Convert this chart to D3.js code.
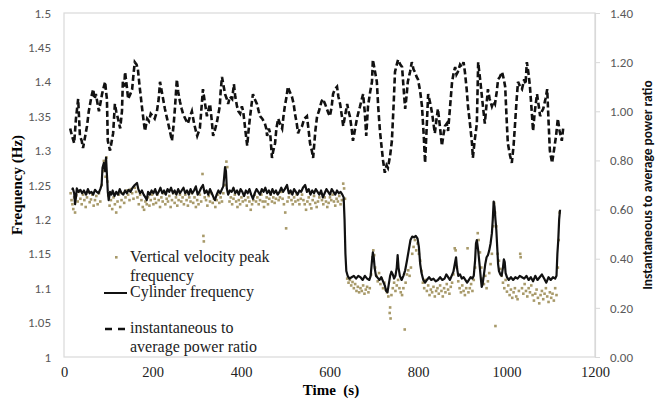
<!DOCTYPE html>
<html>
<head>
<meta charset="utf-8">
<script src="https://cdn.jsdelivr.net/npm/d3@7"></script>
<style>
  body { margin: 0; background: #fff; }
  svg { display: block; }
</style>
</head>
<body>
<div id="chart"></div>
<script>
// ticks
const time_ticks = [0, 200, 400, 600, 800, 1000, 1200];
const freq_ticks = [1, 1.05, 1.1, 1.15, 1.2, 1.25, 1.3, 1.35, 1.4, 1.45, 1.5];
const ratio_ticks = [0, 0.2, 0.4, 0.6, 0.8, 1.0, 1.2, 1.4];

// [time s, frequency Hz] cylinder frequency (solid)
const cylinder_freq = [
  [18,1.243],[20,1.245],[23,1.238],[25,1.222],[27,1.232],[29,1.245],[33,1.24],[37,1.243],[41,1.238],[45,1.242],
  [50,1.236],[54,1.244],[58,1.238],[62,1.24],[66,1.236],[70,1.243],[74,1.24],[78,1.238],[82,1.244],[85,1.25],
  [87,1.275],[90,1.282],[93,1.27],[95,1.29],[97,1.265],[99,1.24],[101,1.228],[104,1.24],[107,1.236],[110,1.242],
  [114,1.234],[118,1.24],[122,1.236],[126,1.244],[130,1.238],[134,1.236],[138,1.242],[142,1.238],[146,1.243],[150,1.24],
  [155,1.246],[160,1.25],[165,1.253],[168,1.244],[172,1.238],[176,1.242],[180,1.236],[184,1.232],[187,1.228],[190,1.24],
  [194,1.236],[198,1.242],[202,1.238],[206,1.244],[210,1.236],[214,1.24],[218,1.246],[222,1.238],[226,1.242],[230,1.236],
  [234,1.244],[238,1.24],[242,1.246],[246,1.238],[250,1.242],[254,1.236],[258,1.244],[262,1.238],[266,1.242],[270,1.246],
  [274,1.238],[278,1.242],[282,1.236],[286,1.244],[290,1.238],[294,1.242],[298,1.248],[302,1.236],[306,1.24],[310,1.246],
  [314,1.25],[318,1.238],[322,1.242],[326,1.236],[330,1.244],[334,1.238],[338,1.232],[341,1.228],[345,1.236],[349,1.242],
  [353,1.238],[357,1.244],[360,1.248],[362,1.262],[364,1.276],[366,1.27],[368,1.245],[371,1.236],[375,1.242],[379,1.24],
  [383,1.246],[387,1.238],[391,1.242],[395,1.236],[399,1.244],[403,1.24],[407,1.234],[411,1.242],[415,1.238],[419,1.244],
  [423,1.236],[427,1.23],[431,1.238],[435,1.244],[439,1.24],[443,1.236],[447,1.244],[451,1.24],[455,1.246],[459,1.238],
  [463,1.242],[467,1.236],[471,1.244],[475,1.238],[479,1.242],[483,1.236],[487,1.24],[491,1.246],[495,1.24],[499,1.244],
  [504,1.25],[508,1.238],[512,1.242],[516,1.236],[520,1.244],[524,1.24],[528,1.236],[532,1.242],[536,1.24],[540,1.246],
  [545,1.25],[549,1.24],[553,1.244],[557,1.236],[561,1.242],[565,1.238],[569,1.244],[573,1.24],[577,1.236],[581,1.242],
  [585,1.232],[589,1.238],[593,1.244],[597,1.24],[601,1.236],[605,1.244],[609,1.24],[613,1.236],[617,1.242],[621,1.238],
  [625,1.24],[629,1.236],[632,1.232],[634,1.2],[636,1.15],[638,1.125],[641,1.118],[645,1.114],[650,1.116],[655,1.118],
  [660,1.114],[665,1.118],[670,1.116],[675,1.112],[680,1.118],[685,1.114],[690,1.112],[693,1.118],[696,1.14],[698,1.152],
  [700,1.145],[702,1.13],[705,1.118],[709,1.115],[713,1.112],[717,1.116],[721,1.11],[725,1.104],[728,1.096],[731,1.094],
  [734,1.106],[737,1.118],[740,1.124],[743,1.12],[746,1.114],[749,1.118],[752,1.13],[754,1.148],[756,1.13],[759,1.118],
  [763,1.112],[767,1.118],[771,1.126],[775,1.14],[779,1.155],[783,1.17],[787,1.175],[791,1.174],[795,1.176],[799,1.172],
  [802,1.16],[805,1.135],[808,1.122],[812,1.112],[816,1.108],[820,1.112],[825,1.116],[830,1.112],[835,1.114],[840,1.11],
  [845,1.112],[850,1.116],[855,1.112],[860,1.114],[864,1.12],[868,1.116],[872,1.112],[876,1.118],[880,1.124],[884,1.138],
  [886,1.145],[888,1.13],[891,1.118],[895,1.12],[899,1.114],[903,1.116],[907,1.112],[911,1.108],[915,1.112],[919,1.116],
  [923,1.114],[926,1.118],[929,1.14],[931,1.165],[933,1.17],[936,1.155],[939,1.135],[942,1.114],[944,1.102],[946,1.106],
  [949,1.12],[952,1.135],[955,1.145],[958,1.148],[961,1.155],[964,1.165],[967,1.18],[969,1.2],[971,1.226],[973,1.218],
  [975,1.2],[977,1.185],[979,1.16],[981,1.135],[983,1.125],[986,1.12],[989,1.118],[992,1.13],[994,1.142],[996,1.138],
  [998,1.122],[1001,1.116],[1005,1.112],[1010,1.116],[1015,1.112],[1020,1.116],[1025,1.114],[1030,1.118],[1035,1.116],[1040,1.114],
  [1045,1.118],[1050,1.112],[1055,1.116],[1060,1.11],[1065,1.118],[1070,1.112],[1075,1.116],[1080,1.12],[1085,1.114],[1090,1.108],
  [1095,1.116],[1100,1.112],[1105,1.116],[1110,1.114],[1113,1.118],[1115,1.15],[1117,1.17],[1119,1.2],[1121,1.214]
];

// [time s, frequency Hz] vertical velocity peak frequency (dots)
const peak_freq = [
  [15,1.238],[17,1.228],[19,1.222],[21,1.215],[23,1.232],[25,1.21],[28,1.235],[31,1.226],[34,1.24],[37,1.23],
  [40,1.222],[43,1.236],[46,1.228],[49,1.218],[52,1.232],[55,1.24],[58,1.225],[61,1.229],[64,1.236],[67,1.22],
  [70,1.228],[73,1.234],[76,1.222],[79,1.238],[82,1.226],[85,1.25],[88,1.27],[90,1.285],[92,1.275],[94,1.262],
  [96,1.29],[98,1.255],[100,1.235],[103,1.22],[106,1.228],[109,1.215],[112,1.232],[115,1.222],[118,1.21],[121,1.226],
  [124,1.236],[127,1.218],[130,1.228],[133,1.238],[136,1.224],[139,1.232],[142,1.242],[145,1.236],[148,1.228],[151,1.244],
  [154,1.238],[157,1.23],[160,1.246],[163,1.24],[166,1.232],[169,1.222],[172,1.236],[175,1.228],[178,1.218],[181,1.214],
  [184,1.226],[187,1.222],[190,1.232],[193,1.22],[196,1.228],[199,1.236],[202,1.222],[205,1.23],[208,1.224],[211,1.236],
  [214,1.228],[217,1.218],[220,1.232],[223,1.226],[226,1.238],[229,1.222],[232,1.23],[235,1.226],[238,1.234],[241,1.218],
  [244,1.228],[247,1.238],[250,1.224],[253,1.232],[256,1.22],[259,1.228],[262,1.236],[265,1.226],[268,1.232],[271,1.222],
  [274,1.236],[277,1.228],[280,1.22],[283,1.232],[286,1.226],[289,1.238],[292,1.224],[295,1.232],[298,1.218],[301,1.228],
  [304,1.222],[307,1.236],[310,1.226],[313,1.266],[315,1.176],[316,1.168],[318,1.232],[321,1.228],[324,1.22],[327,1.234],
  [330,1.226],[333,1.238],[336,1.224],[339,1.23],[342,1.218],[345,1.228],[348,1.236],[351,1.224],[354,1.232],[357,1.226],
  [360,1.238],[363,1.25],[365,1.265],[367,1.284],[369,1.276],[371,1.24],[374,1.226],[377,1.232],[380,1.222],[383,1.23],
  [386,1.236],[389,1.226],[392,1.218],[395,1.228],[398,1.222],[401,1.232],[404,1.226],[407,1.236],[410,1.228],[413,1.22],
  [416,1.232],[419,1.226],[422,1.214],[425,1.222],[428,1.228],[431,1.236],[434,1.226],[437,1.232],[440,1.222],[443,1.228],
  [446,1.236],[449,1.226],[452,1.218],[455,1.226],[458,1.232],[461,1.222],[464,1.23],[467,1.236],[470,1.226],[473,1.232],
  [476,1.224],[479,1.23],[482,1.238],[485,1.228],[488,1.232],[491,1.24],[494,1.23],[497,1.222],[500,1.21],[502,1.187],
  [505,1.226],[508,1.232],[511,1.238],[514,1.228],[517,1.222],[520,1.232],[523,1.226],[526,1.236],[529,1.228],[532,1.222],
  [535,1.23],[538,1.236],[541,1.228],[544,1.222],[547,1.214],[550,1.226],[553,1.232],[556,1.222],[559,1.216],[562,1.228],
  [565,1.234],[568,1.224],[571,1.218],[574,1.226],[577,1.232],[580,1.238],[583,1.228],[586,1.222],[589,1.232],[592,1.226],
  [595,1.218],[598,1.224],[601,1.232],[604,1.228],[607,1.236],[610,1.226],[613,1.22],[616,1.23],[619,1.226],[622,1.234],
  [625,1.222],[628,1.228],[631,1.252],[633,1.245],[635,1.23],
  [640,1.114],[643,1.108],[646,1.112],[649,1.104],[652,1.109],[655,1.1],[658,1.106],[661,1.096],[664,1.102],[667,1.094],
  [670,1.1],[673,1.096],[676,1.104],[679,1.092],[682,1.098],[685,1.102],[688,1.094],[691,1.1],[694,1.12],[697,1.145],
  [699,1.155],[701,1.148],[703,1.13],[706,1.118],[709,1.11],[712,1.122],[715,1.106],[718,1.114],[721,1.1],[724,1.108],
  [727,1.098],[730,1.094],[733,1.088],[736,1.064],[737,1.072],[738,1.056],[740,1.09],[743,1.1],[746,1.108],[749,1.096],
  [752,1.104],[755,1.112],[758,1.1],[761,1.094],[764,1.09],[767,1.1],[770,1.04],[772,1.108],[775,1.12],[778,1.126],
  [781,1.118],[784,1.13],[787,1.15],[790,1.16],[793,1.17],[796,1.155],[799,1.165],[802,1.15],[805,1.14],[808,1.125],
  [811,1.108],[814,1.1],[817,1.112],[820,1.096],[823,1.104],[826,1.09],[829,1.098],[832,1.094],[835,1.102],[838,1.088],
  [841,1.096],[844,1.1],[847,1.092],[850,1.104],[853,1.096],[856,1.088],[859,1.1],[862,1.094],[865,1.106],[868,1.098],
  [871,1.092],[874,1.102],[877,1.108],[880,1.12],[883,1.158],[885,1.155],[888,1.13],[891,1.11],[894,1.1],[897,1.094],
  [900,1.104],[903,1.096],[906,1.09],[909,1.1],[912,1.158],[914,1.094],[917,1.1],[920,1.106],[923,1.096],[926,1.112],
  [929,1.13],[932,1.16],[935,1.18],[937,1.17],[940,1.152],[943,1.13],[946,1.114],[949,1.106],[952,1.118],[955,1.1],
  [958,1.11],[961,1.122],[964,1.135],[967,1.15],[970,1.19],[972,1.224],[974,1.21],[975,1.045],[977,1.19],[980,1.15],
  [983,1.14],[986,1.128],[989,1.118],[992,1.108],[995,1.1],[998,1.112],[1001,1.095],[1004,1.104],[1007,1.09],[1010,1.098],
  [1013,1.086],[1016,1.094],[1019,1.1],[1022,1.088],[1025,1.084],[1028,1.096],[1031,1.15],[1032,1.145],[1035,1.1],[1038,1.092],
  [1041,1.106],[1044,1.096],[1047,1.088],[1050,1.1],[1053,1.094],[1056,1.104],[1059,1.09],[1062,1.082],[1065,1.092],[1068,1.098],
  [1071,1.086],[1074,1.078],[1077,1.09],[1080,1.096],[1083,1.084],[1086,1.092],[1089,1.1],[1092,1.088],[1095,1.08],[1098,1.094],
  [1101,1.086],[1104,1.092],[1107,1.082],[1110,1.1],[1113,1.09],[1116,1.13],[1118,1.17],[1120,1.21]
];

// [time s, ratio] instantaneous to average power ratio (dashed, right axis)
const power_ratio = [
  [14,0.93],[18,0.90],[23,0.87],[27,0.97],[32,1.05],[36,0.90],[40,0.88],[43,0.85],[47,0.89],[52,0.94],
  [56,1.00],[59,1.03],[62,1.06],[66,1.09],[69,1.05],[72,1.07],[76,1.03],[79,1.00],[83,1.04],[86,1.07],
  [90,1.10],[93,1.12],[95,1.08],[97,1.05],[99,0.88],[104,0.84],[108,0.88],[111,0.91],[115,1.03],[118,1.00],
  [122,0.97],[127,0.93],[131,1.00],[133,1.12],[136,1.10],[138,1.16],[142,1.10],[145,1.05],[150,1.07],[154,1.09],
  [157,1.15],[160,1.20],[164,1.19],[167,1.17],[171,1.10],[176,1.02],[180,0.96],[183,0.92],[188,0.97],[192,0.96],
  [196,0.99],[201,0.98],[205,0.97],[210,1.00],[214,1.05],[217,1.12],[221,1.08],[224,1.05],[228,1.01],[233,0.97],
  [238,0.93],[244,0.88],[248,0.95],[251,1.02],[255,1.13],[258,1.08],[262,1.04],[266,1.01],[269,0.99],[274,0.97],
  [280,0.95],[285,0.98],[289,1.00],[294,0.95],[298,0.92],[301,0.90],[307,0.93],[311,1.02],[314,1.09],[318,1.04],
  [323,0.98],[327,1.01],[330,1.03],[334,0.96],[337,0.90],[342,0.93],[346,0.96],[349,0.99],[352,1.02],[354,1.08],
  [357,1.14],[361,1.10],[364,1.07],[368,1.05],[371,1.03],[375,1.06],[380,1.05],[384,1.11],[387,1.06],[391,1.02],
  [394,1.00],[398,0.99],[402,1.02],[405,1.00],[410,0.92],[414,0.86],[417,0.92],[420,0.97],[424,1.03],[427,1.07],
  [431,1.05],[436,1.03],[440,1.00],[443,0.98],[448,0.97],[454,0.95],[457,0.93],[459,0.90],[463,0.93],[466,0.91],
  [470,0.81],[473,0.84],[477,0.87],[480,0.93],[484,0.97],[488,0.95],[493,0.93],[496,0.98],[499,1.02],[503,1.06],
  [506,1.10],[510,1.08],[515,1.06],[519,1.03],[522,0.99],[526,0.95],[529,0.91],[533,0.93],[538,0.94],[543,0.97],
  [549,0.98],[553,0.92],[556,0.87],[560,0.84],[563,0.81],[568,0.92],[572,0.98],[576,1.00],[579,1.02],[582,1.04],
  [585,1.05],[590,1.03],[594,1.01],[598,0.99],[601,0.98],[605,1.02],[608,1.07],[612,1.09],[617,1.10],[620,1.06],
  [624,1.03],[628,0.98],[631,0.94],[636,0.99],[640,1.03],[643,1.00],[646,0.98],[650,0.93],[653,0.88],[658,0.93],
  [662,0.97],[666,1.00],[669,1.02],[673,1.05],[676,1.07],[680,0.99],[683,0.90],[687,1.02],[692,1.08],[696,1.12],
  [698,1.21],[702,1.17],[707,1.12],[710,1.02],[714,0.92],[718,0.85],[721,0.80],[725,0.75],[729,0.78],[732,0.77],
  [737,0.82],[741,0.88],[745,1.03],[748,1.16],[752,1.19],[755,1.21],[760,1.19],[764,1.18],[768,1.08],[771,1.01],
  [774,1.06],[777,1.12],[782,1.16],[786,1.20],[790,1.17],[793,1.16],[797,1.14],[800,1.13],[805,1.08],[809,1.02],
  [813,0.90],[816,0.79],[820,0.95],[823,1.07],[828,1.03],[832,0.99],[835,0.95],[838,0.91],[842,0.97],[845,1.01],
  [850,0.93],[854,0.86],[858,0.91],[861,0.94],[865,0.95],[868,0.92],[873,1.03],[877,1.12],[881,1.16],[884,1.18],
  [887,1.15],[890,1.16],[895,1.19],[899,1.18],[903,1.20],[906,1.16],[910,1.09],[913,1.02],[918,0.94],[922,0.87],
  [924,0.81],[928,0.88],[933,0.95],[936,1.20],[941,1.12],[945,1.05],[948,1.00],[951,0.95],[955,1.03],[958,1.09],
  [962,1.05],[967,1.02],[971,1.04],[974,1.03],[978,1.08],[981,1.13],[985,1.14],[990,1.16],[994,1.13],[997,1.10],
  [1000,0.98],[1003,0.87],[1008,0.82],[1012,0.79],[1016,0.86],[1019,0.94],[1023,1.05],[1026,1.12],[1031,1.10],[1035,1.09],
  [1040,1.13],[1043,1.11],[1046,1.20],[1050,1.15],[1053,1.10],[1057,1.00],[1060,0.92],[1064,1.00],[1069,1.07],[1073,1.02],
  [1076,0.98],[1080,1.00],[1083,1.01],[1088,1.05],[1092,1.09],[1095,0.96],[1098,0.84],[1103,0.79],[1108,0.85],[1112,0.90],
  [1116,0.97],[1120,0.92],[1125,0.88],[1128,0.93],[1130,0.94]
];

const legend_items = [
  {kind: "dot", lines: ["Vertical velocity peak", "frequency"]},
  {kind: "solid", lines: ["Cylinder frequency"]},
  {kind: "dash", lines: ["instantaneous to", "average power ratio"]}
];

const width = 664, height = 399;
const margin = {top: 13, right: 69, bottom: 42, left: 64};
const serif = "Liberation Serif, Times New Roman, DejaVu Serif, serif";
const sans = "Carlito, Liberation Sans, Open Sans, sans-serif";
const dot_color = "#a89a6a";

const svg = d3.select("#chart").append("svg")
    .attr("width", width)
    .attr("height", height);

const x = d3.scaleLinear().domain([0, 1200]).range([margin.left, width - margin.right]);
const y_freq = d3.scaleLinear().domain([1, 1.5]).range([height - margin.bottom, margin.top]);
const y_ratio = d3.scaleLinear().domain([0, 1.4]).range([height - margin.bottom, margin.top]);

// plot frame
svg.append("rect")
    .attr("x", x(0))
    .attr("y", y_freq(1.5))
    .attr("width", x(1200) - x(0))
    .attr("height", y_freq(1) - y_freq(1.5))
    .attr("fill", "none")
    .attr("stroke", "#d9d9d9")
    .attr("stroke-width", 1.2);

// left axis
const left_axis = svg.append("g")
    .attr("transform", `translate(${x(0)},0)`)
    .call(d3.axisLeft(y_freq).tickValues(freq_ticks).tickSize(0).tickPadding(13)
      .tickFormat(d => String(+d.toFixed(2))));
left_axis.select(".domain").remove();
left_axis.attr("font-family", sans).attr("font-size", 13);
left_axis.selectAll("text").attr("fill", "#595959");

// right axis
const right_axis = svg.append("g")
    .attr("transform", `translate(${x(1200)},0)`)
    .call(d3.axisRight(y_ratio).tickValues(ratio_ticks).tickSize(5).tickPadding(10)
      .tickFormat(d3.format(".2f")));
right_axis.select(".domain").attr("stroke", "#d9d9d9").attr("stroke-width", 1.2);
right_axis.selectAll(".tick line").attr("stroke", "#d9d9d9");
right_axis.attr("font-family", sans).attr("font-size", 13);
right_axis.selectAll("text").attr("fill", "#595959");

// bottom axis
const bottom_axis = svg.append("g")
    .attr("transform", `translate(0,${y_freq(1)})`)
    .call(d3.axisBottom(x).tickValues(time_ticks).tickSize(0).tickPadding(10)
      .tickFormat(d3.format("d")));
bottom_axis.select(".domain").remove();
bottom_axis.attr("font-family", serif).attr("font-size", 14.5);
bottom_axis.selectAll("text").attr("fill", "#222");

// titles
svg.append("text")
    .attr("transform", `translate(22,${(y_freq(1) + y_freq(1.5)) / 2}) rotate(-90)`)
    .attr("text-anchor", "middle")
    .attr("font-family", serif)
    .attr("font-weight", "bold")
    .attr("font-size", 15)
    .text("Frequency (Hz)");

svg.append("text")
    .attr("x", 331)
    .attr("y", 395)
    .attr("text-anchor", "middle")
    .attr("font-family", serif)
    .attr("font-weight", "bold")
    .attr("font-size", 15)
    .attr("xml:space", "preserve")
    .text("Time  (s)");

svg.append("text")
    .attr("transform", `translate(652,${(y_ratio(0) + y_ratio(1.4)) / 2}) rotate(-90)`)
    .attr("text-anchor", "middle")
    .attr("font-family", sans)
    .attr("font-weight", "bold")
    .attr("font-size", 13.5)
    .attr("fill", "#111")
    .text("Instantaneous to average power ratio");

// series
const line_freq = d3.line().x(d => x(d[0])).y(d => y_freq(d[1]));
const line_ratio = d3.line().x(d => x(d[0])).y(d => y_ratio(d[1]));

svg.append("g")
    .selectAll("rect")
    .data(peak_freq)
    .join("rect")
      .attr("x", d => x(d[0]) - 1.3)
      .attr("y", d => y_freq(d[1]) - 1.3)
      .attr("width", 2.6)
      .attr("height", 2.6)
      .attr("fill", dot_color);

svg.append("path")
    .datum(cylinder_freq)
    .attr("d", line_freq)
    .attr("fill", "none")
    .attr("stroke", "#111")
    .attr("stroke-width", 2.2)
    .attr("stroke-linejoin", "round");

svg.append("path")
    .datum(power_ratio)
    .attr("d", line_ratio)
    .attr("fill", "none")
    .attr("stroke", "#111")
    .attr("stroke-width", 2.6)
    .attr("stroke-dasharray", "6,3");

// legend
const legend = svg.append("g").attr("transform", "translate(104,0)");
const legend_y = [262, 297, 333];
legend_items.forEach((item, i) => {
  const g = legend.append("g").attr("transform", `translate(0,${legend_y[i]})`);
  if (item.kind === "dot") {
    g.append("rect").attr("x", 11).attr("y", -6).attr("width", 2.6).attr("height", 2.6).attr("fill", dot_color);
  } else if (item.kind === "solid") {
    g.append("line").attr("x1", 0).attr("x2", 23).attr("y1", -4).attr("y2", -4)
        .attr("stroke", "#111").attr("stroke-width", 2);
  } else {
    g.append("line").attr("x1", 1).attr("x2", 21).attr("y1", -4).attr("y2", -4)
        .attr("stroke", "#111").attr("stroke-width", 2.4).attr("stroke-dasharray", "7,6");
  }
  item.lines.forEach((t, j) => {
    g.append("text")
        .attr("x", 26)
        .attr("y", j * 18.5)
        .attr("font-family", serif)
        .attr("font-size", 16)
        .attr("fill", "#222")
        .text(t);
  });
});
</script>
</body>
</html>
